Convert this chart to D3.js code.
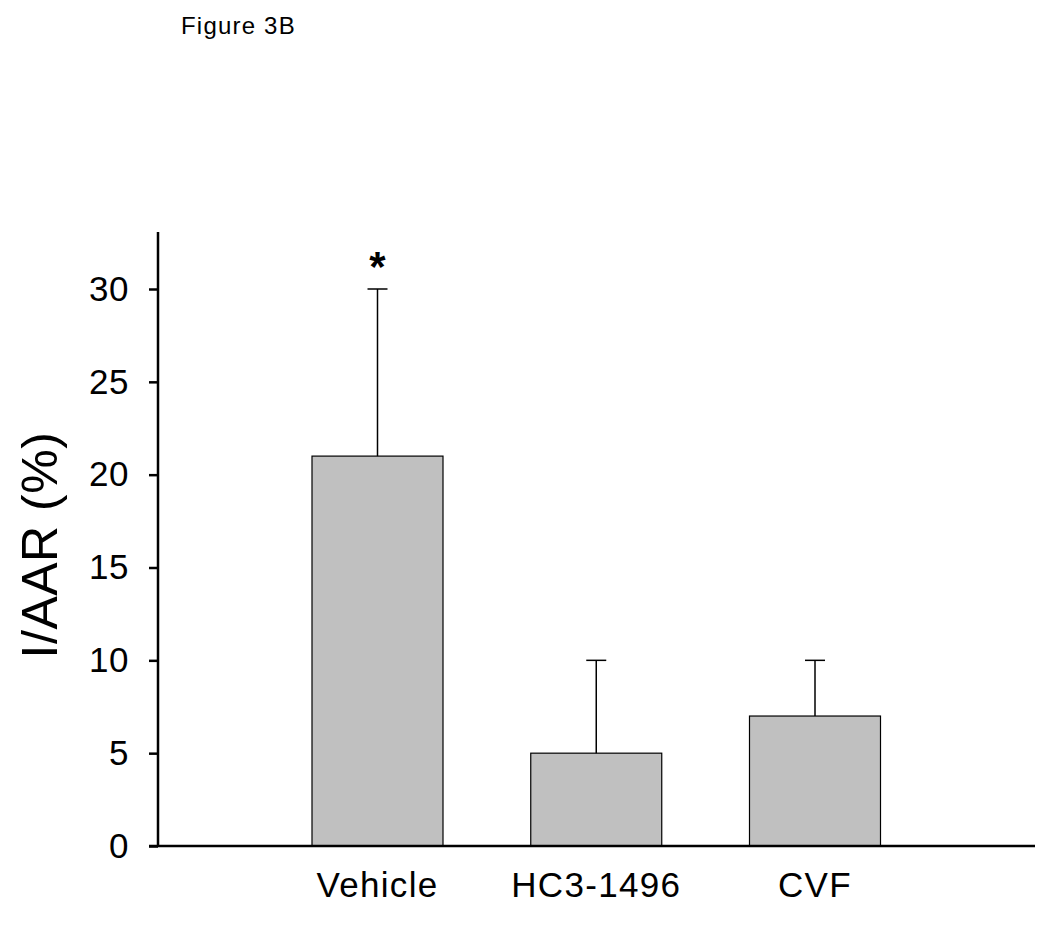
<!DOCTYPE html>
<html><head><meta charset="utf-8">
<script src="https://cdn.jsdelivr.net/npm/d3@7"></script>
<style>body{margin:0;background:#fff}svg{display:block}text{font-family:"Liberation Sans",Arial,sans-serif}</style>
</head><body>
<svg id="c" width="1050" height="928"></svg>
<script>
const categories = ["Vehicle", "HC3-1496", "CVF"];
const means = [21, 5, 7];
const errors = [9, 5, 3];
const marks = ["*", "", ""];
const yTicks = [0, 5, 10, 15, 20, 25, 30];

const svg = d3.select("#c");
const x0 = 158, x1 = 1035, yTop = 232, yBot = 846;
const y = d3.scaleLinear().domain([0, 30]).range([yBot, 289]);
const xc = d3.scalePoint().domain(categories).range([377.5, 815]);
const bw = 131;

svg.append("text").attr("x", 181).attr("y", 34).attr("font-size", 24)
  .attr("letter-spacing", 1.2).text("Figure 3B");

const g = svg.append("g");
g.selectAll("rect.bar").data(categories).join("rect")
  .attr("x", d => xc(d) - bw / 2).attr("width", bw)
  .attr("y", (d, i) => y(means[i])).attr("height", (d, i) => yBot - y(means[i]))
  .attr("fill", "#c0c0c0").attr("stroke", "#000").attr("stroke-width", 1.2);
g.selectAll("line.err").data(categories).join("line")
  .attr("x1", d => xc(d)).attr("x2", d => xc(d))
  .attr("y1", (d, i) => y(means[i])).attr("y2", (d, i) => y(means[i] + errors[i]))
  .attr("stroke", "#000").attr("stroke-width", 1.5);
g.selectAll("line.cap").data(categories).join("line")
  .attr("x1", d => xc(d) - 10).attr("x2", d => xc(d) + 10)
  .attr("y1", (d, i) => y(means[i] + errors[i])).attr("y2", (d, i) => y(means[i] + errors[i]))
  .attr("stroke", "#000").attr("stroke-width", 1.5);
g.selectAll("text.mark").data(categories).join("text")
  .attr("x", d => xc(d)).attr("y", (d, i) => y(means[i] + errors[i]) - 8)
  .attr("text-anchor", "middle").attr("font-size", 42).attr("font-weight", "bold")
  .text((d, i) => marks[i]);

const ya = svg.append("g").attr("transform", `translate(${x0},0)`)
  .call(d3.axisLeft(y).tickValues(yTicks).tickSize(9).tickPadding(30));
ya.select(".domain").remove();
ya.selectAll(".tick line").attr("stroke-width", 2.5);
ya.selectAll(".tick text").attr("font-size", 35).attr("fill", "#000").attr("x", -29)
  .attr("letter-spacing", 0.5)
  .attr("font-family", "Liberation Sans, Arial, sans-serif");
svg.append("line").attr("x1", x0).attr("x2", x0).attr("y1", yTop).attr("y2", yBot)
  .attr("stroke", "#000").attr("stroke-width", 2.5);
svg.append("line").attr("x1", 149).attr("x2", x1).attr("y1", yBot).attr("y2", yBot)
  .attr("stroke", "#000").attr("stroke-width", 2.5);

svg.selectAll("text.cat").data(categories).join("text")
  .attr("x", d => xc(d)).attr("y", 897).attr("text-anchor", "middle")
  .attr("font-size", 35).attr("letter-spacing", 1.3).text(d => d);

svg.append("text").attr("transform", "translate(57,545) rotate(-90)")
  .attr("text-anchor", "middle").attr("font-size", 50).attr("letter-spacing", 0.5).text("I/AAR (%)");
</script>
</body></html>
